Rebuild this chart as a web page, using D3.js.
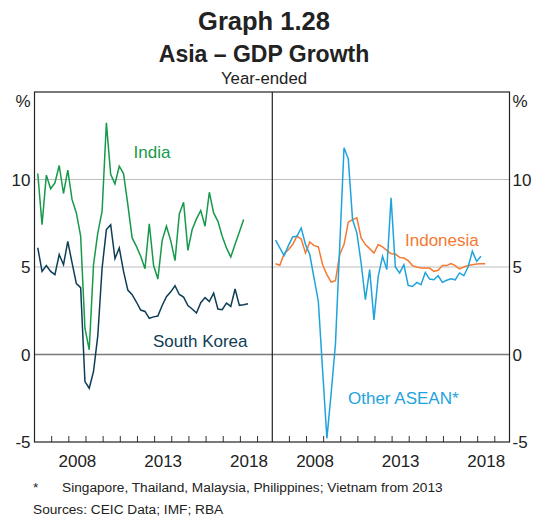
<!DOCTYPE html>
<html>
<head>
<meta charset="utf-8">
<script src="https://cdn.jsdelivr.net/npm/d3@7"></script>
<style>
  body { margin: 0; background: #fff; }
  text { font-family: Arial, "Liberation Sans", sans-serif; }
</style>
</head>
<body>
<svg id="chart" width="538" height="517"></svg>
<script>
// quarterly, year-ended % growth, first obs 2006 Q1
const startYear = 2006;
const india = [10.34, 7.42, 10.25, 9.47, 9.81, 10.8, 9.2, 10.53, 8.85, 8.09,
  6.76, 1.5, 0.27, 5.13, 6.95, 8.19, 13.24, 10.29, 9.75, 10.76,
  10.34, 8.57, 6.66, 6.18, 5.61, 4.9, 7.47, 5.1, 4.31, 6.51,
  7.33, 6.51, 5.36, 8.03, 8.7, 5.95, 7.14, 7.75, 8.23, 7.33,
  9.27, 8.09, 7.61, 6.76, 6.09, 5.57, 6.3, 7.0, 7.71];
const southKorea = [6.1, 4.75, 5.08, 4.75, 4.56, 5.71, 5.13, 6.47, 5.23, 4.05,
  3.82, -1.55, -1.93, -0.97, 1.08, 4.94, 7.14, 7.42, 5.48, 6.09,
  4.75, 3.68, 3.42, 3.0, 2.54, 2.46, 2.07, 2.15, 2.2, 2.8,
  3.3, 3.58, 3.93, 3.43, 3.28, 2.8, 2.6, 2.37, 2.96, 3.25,
  3.03, 3.51, 2.6, 2.56, 2.94, 2.75, 3.74, 2.81, 2.84, 2.9];
const indonesia = [5.19, 5.1, 5.76, 5.99, 6.28, 6.76, 6.6, 5.8, 6.43, 6.22,
  6.15, 5.13, 4.56, 4.14, 4.22, 5.71, 6.28, 7.56, 7.71, 7.81,
  6.66, 6.28, 6.05, 5.8, 6.28, 6.15, 5.95, 5.76, 5.74, 5.55,
  5.51, 5.36, 5.08, 5.0, 4.94, 4.94, 4.94, 4.75, 4.81, 5.08,
  5.08, 5.19, 5.08, 4.89, 5.0, 5.08, 5.13, 5.17, 5.19, 5.19];
const otherAsean = [6.53, 6.09, 5.65, 6.22, 6.72, 6.76, 7.23, 6.28, 5.71, 4.37,
  3.03, -0.9, -4.79, -2.2, 0.6, 6.2, 11.81, 11.18, 7.71, 6.95,
  5.23, 3.13, 4.85, 1.98, 4.47, 5.61, 4.85, 8.95, 5.0, 4.66,
  5.13, 3.95, 3.89, 4.12, 3.99, 4.69, 4.31, 4.27, 4.5, 4.12,
  4.24, 4.33, 4.27, 4.66, 4.5, 5.0, 5.9, 5.32, 5.61];

const yTicks = [-5, 0, 5, 10];
const yearLabels = [2008, 2013, 2018];
const yearTicks = d3.range(2007, 2020);

const svg = d3.select('#chart');
const plotTop = 92, plotBottom = 442;
const plotLeft = 34.5, plotMid = 272.3, plotRight = 509.5;
const xDomain = [startYear, 2019.86];

const yScale = d3.scaleLinear().domain([-5, 15]).range([plotBottom, plotTop]);
const xLeft = d3.scaleLinear().domain(xDomain).range([plotLeft, plotMid]);
const xRight = d3.scaleLinear().domain(xDomain).range([plotMid, plotRight]);

// 季度 -> 年份位置
const qTime = i => startYear + i / 4 + 0.19;

// titles
svg.append('text').attr('x', 264).attr('y', 30).attr('text-anchor', 'middle')
  .attr('font-size', 25.5).attr('font-weight', 'bold').attr('fill', '#222').text('Graph 1.28');
svg.append('text').attr('x', 264).attr('y', 62).attr('text-anchor', 'middle')
  .attr('font-size', 23).attr('font-weight', 'bold').attr('fill', '#222').text('Asia – GDP Growth');
svg.append('text').attr('x', 264).attr('y', 84).attr('text-anchor', 'middle')
  .attr('font-size', 16.8).attr('fill', '#222').text('Year-ended');

// gridlines across both panels
svg.append('g').selectAll('line').data([5, 10]).join('line')
  .attr('x1', plotLeft).attr('x2', plotRight)
  .attr('y1', d => yScale(d)).attr('y2', d => yScale(d))
  .attr('stroke', '#bdbdbd').attr('stroke-width', 1);
svg.append('line')
  .attr('x1', plotLeft).attr('x2', plotRight)
  .attr('y1', yScale(0)).attr('y2', yScale(0))
  .attr('stroke', '#7a7a7a').attr('stroke-width', 1.5);

// y labels, both sides
const yLabL = svg.append('g');
yLabL.selectAll('text').data(yTicks).join('text')
  .attr('x', 30.5).attr('y', d => yScale(d)).attr('dy', '0.36em')
  .attr('text-anchor', 'end').attr('font-size', 17).attr('fill', '#222')
  .text(d => d);
yLabL.append('text').attr('x', 30.5).attr('y', 101).attr('dy', '0.36em')
  .attr('text-anchor', 'end').attr('font-size', 17).attr('fill', '#222').text('%');
const yLabR = svg.append('g');
yLabR.selectAll('text').data(yTicks).join('text')
  .attr('x', 512.5).attr('y', d => yScale(d)).attr('dy', '0.36em')
  .attr('font-size', 17).attr('fill', '#222')
  .text(d => d);
yLabR.append('text').attr('x', 512.5).attr('y', 101).attr('dy', '0.36em')
  .attr('font-size', 17).attr('fill', '#222').text('%');

// x ticks and year labels for each panel
[xLeft, xRight].forEach(xs => {
  svg.append('g').selectAll('line').data(yearTicks).join('line')
    .attr('x1', d => xs(d)).attr('x2', d => xs(d))
    .attr('y1', plotBottom).attr('y2', plotBottom - 6)
    .attr('stroke', '#333').attr('stroke-width', 1);
  svg.append('g').selectAll('text').data(yearLabels).join('text')
    .attr('x', d => xs(d + 0.5)).attr('y', 466.5)
    .attr('text-anchor', 'middle').attr('font-size', 17).attr('fill', '#222')
    .text(d => d);
});

// series lines
const drawLine = (xs, values, color) => {
  const line = d3.line().x((d, i) => xs(qTime(i))).y(d => yScale(d));
  svg.append('path').datum(values)
    .attr('d', line)
    .attr('fill', 'none')
    .attr('stroke', color)
    .attr('stroke-width', 1.5)
    .attr('stroke-linejoin', 'miter');
};
drawLine(xLeft, india, '#16994a');
drawLine(xLeft, southKorea, '#0e3d56');
drawLine(xRight, indonesia, '#f47a32');
drawLine(xRight, otherAsean, '#1ea3dd');

// frame and divider
svg.append('rect')
  .attr('x', plotLeft).attr('y', plotTop)
  .attr('width', plotRight - plotLeft).attr('height', plotBottom - plotTop)
  .attr('fill', 'none').attr('stroke', '#222').attr('stroke-width', 1.2);
svg.append('line')
  .attr('x1', plotMid).attr('x2', plotMid).attr('y1', plotTop).attr('y2', plotBottom)
  .attr('stroke', '#222').attr('stroke-width', 1.2);

// series labels
svg.append('text').attr('x', 152).attr('y', 158).attr('text-anchor', 'middle')
  .attr('font-size', 17).attr('fill', '#16994a').text('India');
svg.append('text').attr('x', 153).attr('y', 347)
  .attr('font-size', 17).attr('fill', '#0e3d56').text('South Korea');
svg.append('text').attr('x', 405).attr('y', 246)
  .attr('font-size', 17).attr('fill', '#f47a32').text('Indonesia');
svg.append('text').attr('x', 348).attr('y', 404)
  .attr('font-size', 17).attr('fill', '#1ea3dd').text('Other ASEAN*');

// notes
svg.append('text').attr('x', 33).attr('y', 492)
  .attr('font-size', 13.7).attr('fill', '#222').text('*');
svg.append('text').attr('x', 62).attr('y', 492)
  .attr('font-size', 13.7).attr('fill', '#222')
  .text('Singapore, Thailand, Malaysia, Philippines; Vietnam from 2013');
svg.append('text').attr('x', 33).attr('y', 514)
  .attr('font-size', 13.7).attr('fill', '#222').text('Sources: CEIC Data; IMF; RBA');
</script>
</body>
</html>
